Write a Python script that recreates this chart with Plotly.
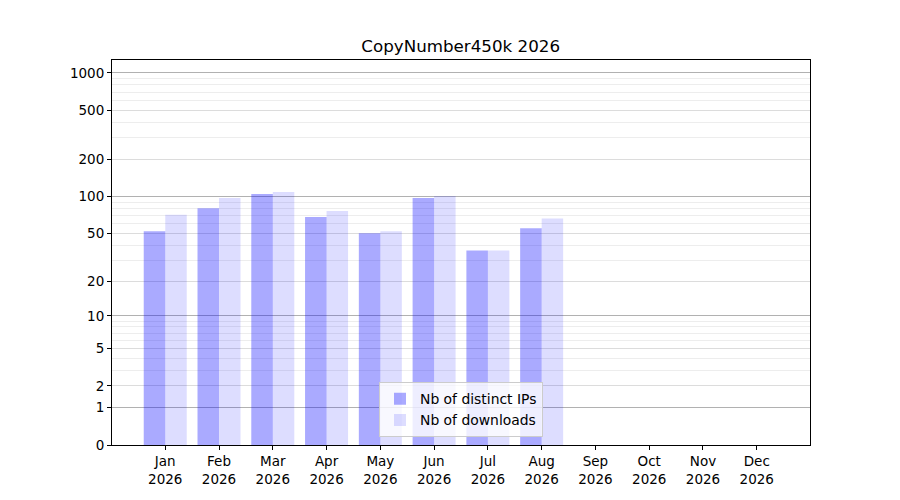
import plotly.graph_objects as go

# 월별 값
months = ["Jan", "Feb", "Mar", "Apr", "May", "Jun", "Jul", "Aug", "Sep", "Oct", "Nov", "Dec"]
year = "2026"
distinct_ips = [52, 80, 105, 68, 50, 97, 36, 55, 0, 0, 0, 0]
downloads = [71, 97, 109, 76, 52, 101, 36, 66, 0, 0, 0, 0]

tick_values = [0, 1, 2, 5, 10, 20, 50, 100, 200, 500, 1000]
major_grid = [1, 10, 100, 1000]
minor_grid = [m * 10 ** k for k in range(3) for m in range(2, 10)]

# y축은 log10(1 + x) 스케일 -> 로그축에 1을 더한 값으로 그린다
labels = [f"{m}<br>{year}" for m in months]
shift = lambda vals: [v + 1 for v in vals]

fig = go.Figure()
fig.add_trace(go.Bar(x=labels, y=shift(distinct_ips), name="Nb of distinct IPs",
                     marker=dict(color="rgba(0,0,255,0.333)", line=dict(width=0))))
fig.add_trace(go.Bar(x=labels, y=shift(downloads), name="Nb of downloads",
                     marker=dict(color="rgba(0,0,255,0.133)", line=dict(width=0))))
# 굵은 격자선(1, 10, 100, 1000)용 보조 축이 그려지도록 보이지 않는 점 하나
fig.add_trace(go.Scatter(x=[labels[0]], y=[1], yaxis="y2", mode="markers",
                         marker=dict(opacity=0), showlegend=False, hoverinfo="skip"))

# 페이지 body 여백(8px)만큼 보정한 여백
font = dict(family="DejaVu Sans", size=13.5, color="black")
fig.update_layout(
    width=900, height=500,
    margin=dict(l=104, r=98, t=52, b=63),
    paper_bgcolor="white", plot_bgcolor="white",
    font=font,
    title=dict(text="CopyNumber450k 2026", x=0.503, xanchor="center", y=0.924, yanchor="middle",
               font=dict(size=16.7, color="black")),
    barmode="group", bargap=0.2, bargroupgap=0,
    showlegend=True,
    legend=dict(x=0.5, xanchor="center", y=0.02, yanchor="bottom",
                bgcolor="rgba(255,255,255,0.8)", bordercolor="#cccccc", borderwidth=1,
                font=dict(size=13.9), tracegroupgap=2),
    xaxis=dict(type="category", range=[-0.99, 11.99], showgrid=False, zeroline=False,
               showline=True, linecolor="black", linewidth=1, mirror=True,
               ticks="outside", ticklen=4, tickcolor="black"),
    yaxis=dict(type="log", range=[0, 3.105], tickmode="array",
               tickvals=shift(tick_values), ticktext=[str(v) for v in tick_values],
               showgrid=True, gridcolor="rgba(0,0,0,0.07)", zeroline=False,
               showline=True, linecolor="black", linewidth=1, mirror=True,
               ticks="outside", ticklen=4, tickcolor="black",
               minor=dict(tickmode="array", tickvals=shift(minor_grid), showgrid=True,
                          gridcolor="rgba(0,0,0,0.07)", ticks="")),
    yaxis2=dict(type="log", range=[0, 3.105], overlaying="y", side="left",
                tickmode="array", tickvals=shift(major_grid), showticklabels=False,
                ticks="", showgrid=True, gridcolor="rgba(0,0,0,0.25)", zeroline=False,
                showline=False),
)

fig.write_html("out.html")
